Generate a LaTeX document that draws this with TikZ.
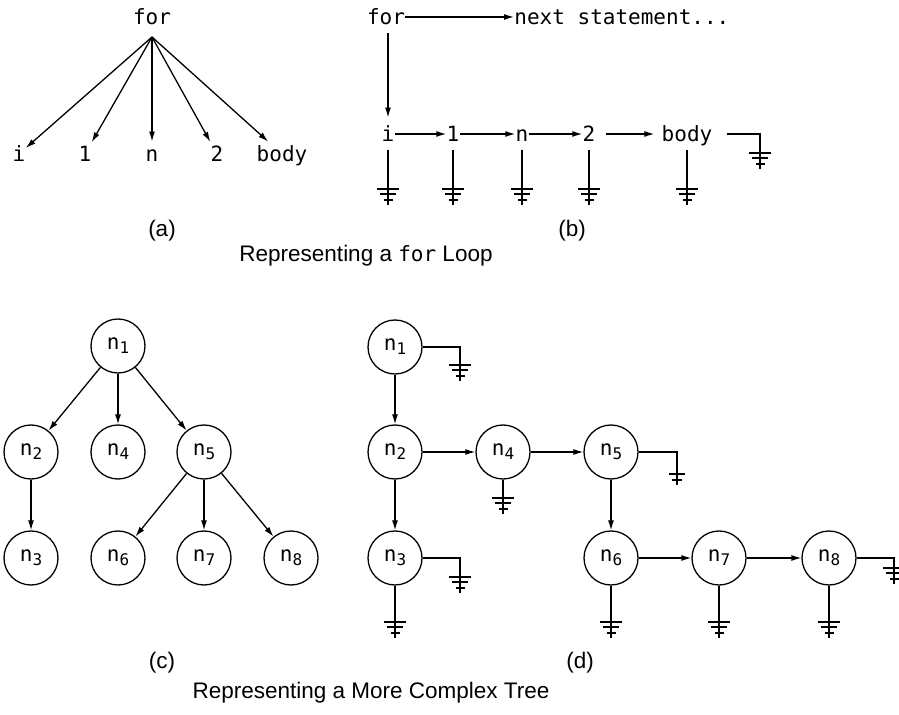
\documentclass[tikz,border=0pt]{standalone}
\usepackage{fontspec}
\setmainfont{Liberation Sans}
\setmonofont{DejaVu Sans Mono}
\usetikzlibrary{arrows.meta}
\tikzset{
  codeword/.style={
    font=\fontsize{10.5}{12}\selectfont\ttfamily,
    anchor=base,
    inner xsep=0pt,
    inner ysep=2pt,
    text height=8pt,
    text depth=0pt
  },
  listword/.style={
    codeword,
    inner ysep=4pt
  },
  treenode/.style={
    draw,
    circle,
    minimum size=27pt,
    inner sep=0pt,
    line width=0.65pt,
    font=\fontsize{10.5}{12}\selectfont\ttfamily
  },
  caption/.style={
    font=\fontsize{11.25}{13}\selectfont,
    anchor=base,
    inner sep=0pt
  },
  link/.style={
    line width=0.65pt,
    -{Latex[length=5pt,width=3pt]}
  },
  wire/.style={
    line width=0.65pt
  },
  earth/.pic={
    \draw[wire] (0,0) -- (0,16);
    \draw[wire] (-11,0) -- (11,0) (-8,5) -- (8,5) (-4.5,11) -- (4.5,11);
  },
  brokenearth/.pic={
    \draw[wire] (0,0) -- (0,16);
    \draw[wire] (-8,5) -- (8,5) (-5,11) -- (5,11);
  }
}
\newcommand{\nsub}[1]{n\raisebox{-2pt}{\fontsize{8}{8}\selectfont #1}}

\begin{document}
\begin{tikzpicture}[x=0.5pt,y=-0.5pt]
  \useasboundingbox (0,0) rectangle (899,715);
  % (a)
  \node[codeword] (fora) at (152,25) {for};
  \coordinate (fork) at (152,37);
  \node[codeword] (ai) at (19,162) {i};
  \node[codeword] (aone) at (85,162) {1};
  \node[codeword] (an) at (152,162) {n};
  \node[codeword] (atwo) at (217,162) {2};
  \node[codeword] (abody) at (282,162) {body};
  \foreach \leaf in {ai,aone,an,atwo,abody}{\draw[link] (fork) -- (\leaf);}
  % (b)
  \node[listword] (forb) at (386,25) {for};
  \node[listword,anchor=base west] (nextst) at (514,25) {next statement...};
  \node[listword] (bi) at (388,142) {i};
  \node[listword] (bone) at (453,142) {1};
  \node[listword] (bn) at (522,142) {n};
  \node[listword] (btwo) at (589,142) {2};
  \node[listword] (bbody) at (687,142) {body};
  \draw[link] (forb) -- (nextst);
  \draw[link] (bi |- forb.south) -- (bi);
  \foreach \from/\to in {bi/bone,bone/bn,bn/btwo}{\draw[link] (\from) -- (\to);}
  \draw[link,shorten <=5pt,shorten >=3.5pt] (btwo) -- (bbody);
  \foreach \item in {bi,bone,bn,btwo,bbody}{
    \coordinate (g\item) at (\item |- 0,189);
    \draw[wire] (\item) -- (g\item);
    \pic at (g\item) {earth};
  }
  \coordinate (gtail) at (760,153);
  \draw[wire,shorten <=7pt] (bbody) -- (bbody -| gtail) -- (gtail);
  \pic at (gtail) {earth};
  \node[caption] (capa) at (162,237) {(a)};
  \node[caption] (capb) at (572,237) {(b)};
  \node[caption] (loopcap) at (366,262) {Representing a {\fontsize{10.5}{12}\selectfont\ttfamily for} Loop};
  % (c)
  \node[treenode] (c1) at (118,346) {\nsub{1}};
  \node[treenode] (c2) at (31,452) {\nsub{2}};
  \node[treenode] (c4) at (118,452) {\nsub{4}};
  \node[treenode] (c5) at (204,452) {\nsub{5}};
  \node[treenode] (c3) at (31,558) {\nsub{3}};
  \node[treenode] (c6) at (118,558) {\nsub{6}};
  \node[treenode] (c7) at (204,558) {\nsub{7}};
  \node[treenode] (c8) at (291,558) {\nsub{8}};
  \foreach \from/\to in {c1/c2,c1/c4,c1/c5,c2/c3,c5/c6,c5/c7,c5/c8}{\draw[link] (\from) -- (\to);}
  % (d)
  \node[treenode] (d1) at (395,347) {\nsub{1}};
  \node[treenode] (d2) at (395,452) {\nsub{2}};
  \node[treenode] (d4) at (503,452) {\nsub{4}};
  \node[treenode] (d5) at (611,452) {\nsub{5}};
  \node[treenode] (d3) at (395,558) {\nsub{3}};
  \node[treenode] (d6) at (611,558) {\nsub{6}};
  \node[treenode] (d7) at (719,558) {\nsub{7}};
  \node[treenode] (d8) at (829,558) {\nsub{8}};
  \foreach \from/\to in {d1/d2,d2/d3,d2/d4,d4/d5,d5/d6,d6/d7,d7/d8}{\draw[link] (\from) -- (\to);}
  \foreach \item/\y in {d3/622,d4/498,d6/622,d7/622,d8/622}{
    \coordinate (g\item) at (\item |- 0,\y);
    \draw[wire] (\item) -- (g\item);
    \pic at (g\item) {earth};
  }
  \foreach \item/\x/\y in {d1/460/365,d3/460/577,d8/894/568}{
    \coordinate (r\item) at (\x,\y);
    \draw[wire] (\item) -- (\item -| r\item) -- (r\item);
    \pic at (r\item) {earth};
  }
  \coordinate (rd5) at (677,469);
  \draw[wire] (d5) -- (d5 -| rd5) -- (rd5);
  \pic at (rd5) {brokenearth};
  \node[caption] (capc) at (162,668) {(c)};
  \node[caption] (capd) at (580,668) {(d)};
  \node[caption] (treecap) at (371,698) {Representing a More Complex Tree};
\end{tikzpicture}
\end{document}
